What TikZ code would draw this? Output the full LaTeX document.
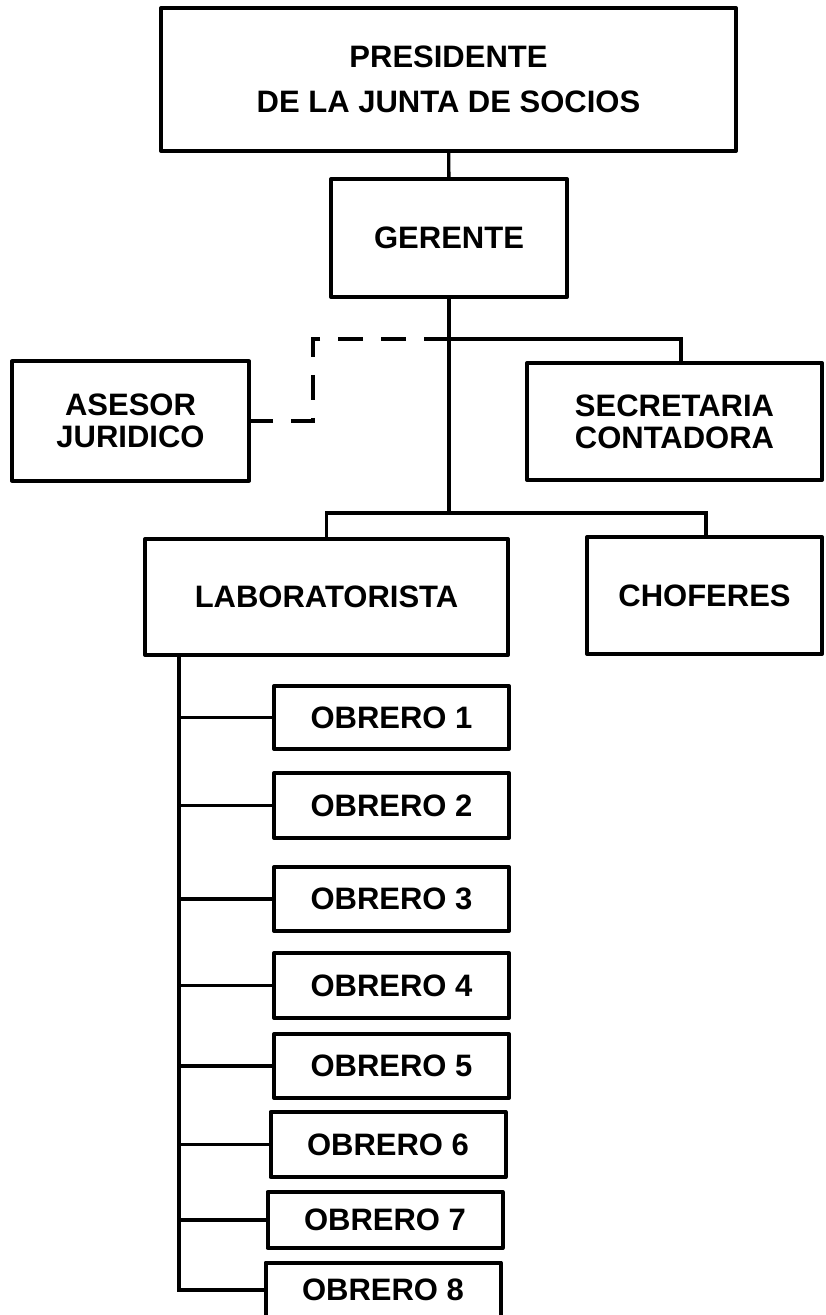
\documentclass[tikz,border=0pt]{standalone}
\usepackage{fontspec}
\setmainfont{Liberation Sans}
\usetikzlibrary{positioning}

\begin{document}
\begin{tikzpicture}[
    x=0.5pt, y=-0.5pt,
    box/.style={draw, line width=2pt, line join=round, inner sep=0pt,
                align=center, font=\fontsize{15.5}{16}\selectfont\bfseries},
    link/.style={line width=1.7pt},
    dashlink/.style={line width=2.4pt, dash pattern=on 12.5pt off 9pt}
  ]
  \useasboundingbox (0,0) rectangle (825,1315);
  \clip (0,0) rectangle (825,1315);

  % top levels
  \node[box, minimum width=287.5pt, minimum height=71.5pt,
        font=\fontsize{15.5}{22.5}\selectfont\bfseries]
    (pres) at (448.5,79.5) {PRESIDENTE\\DE LA JUNTA DE SOCIOS};
  \node[box, minimum width=118pt, minimum height=59pt] (ger) at (449,238) {GERENTE};

  % staff
  \node[box, minimum width=118.5pt, minimum height=59.5pt] (ases) at (130.5,421) {ASESOR\\JURIDICO};
  \node[box, minimum width=147.5pt, minimum height=58.5pt] (secr) at (674.5,421.5) {SECRETARIA\\CONTADORA};

  % operations
  \node[box, minimum width=181.5pt, minimum height=58pt] (lab) at (326.5,597) {LABORATORISTA};
  \node[box, minimum width=117.5pt, minimum height=58.5pt] (chof) at (704.5,595.5) {CHOFERES};

  % workers
  \foreach \i/\x/\y/\h in {1/391.5/717.5/63, 2/391.5/805.5/65, 3/391.5/899/64,
                           4/391.5/985.5/65, 5/391.5/1066/64, 6/388/1144.5/65,
                           7/385/1220/56, 8/383/1290/55} {
    \node[box, minimum width=117.5pt, minimum height=\h*0.5pt] (ob\i) at (\x,\y) {OBRERO \i};
  }

  % connectors
  \coordinate (j1) at (449,339);
  \coordinate (j2) at (449,513);
  \coordinate (kink) at (313,339);
  \coordinate (spine) at ([xshift=18pt]lab.south west);

  \draw[link] (pres) -- (ger);
  \draw[link] (ger.south) -- (j2);
  \draw[link] (j1) -| ([xshift=3.25pt]secr.north);
  \draw[link] (j2) -| (lab.north);
  \draw[link] (j2) -| ([xshift=0.75pt]chof.north);
  \draw[dashlink] (j1) -- (kink) |- (ases.east);

  \draw[link] (spine) |- (ob8.west);
  \foreach \i in {1,...,7}
    \draw[link] (spine |- ob\i.west) -- (ob\i.west);
\end{tikzpicture}
\end{document}
